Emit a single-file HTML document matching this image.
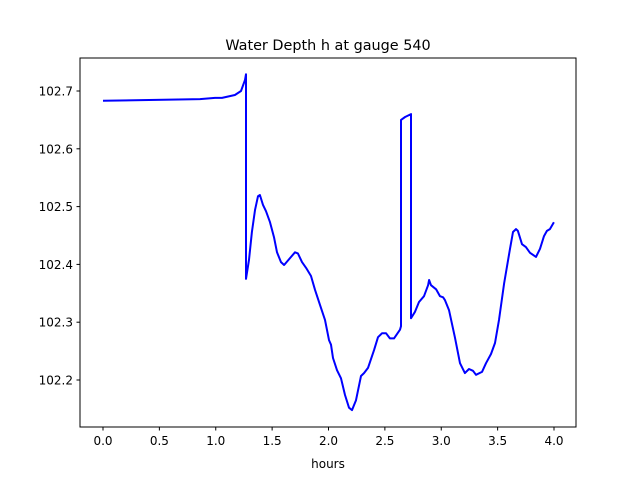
<!DOCTYPE html>
<html><head><meta charset="utf-8"><style>
body{margin:0;background:#fff;font-family:"Liberation Sans","DejaVu Sans",sans-serif}
text{font-family:"DejaVu Sans","Liberation Sans",sans-serif;fill:#000}
</style></head><body>
<svg id="chart" width="640" height="480" xmlns="http://www.w3.org/2000/svg">
<rect width="640" height="480" fill="#fff"/>
<text x="328" y="50" font-size="14.4" text-anchor="middle">Water Depth h at gauge 540</text>
<text x="328" y="468" font-size="12" text-anchor="middle">hours</text>
<g id="ticks"></g>
<path id="line" fill="none" stroke="#0000ff" stroke-width="2" stroke-linejoin="round"/>
<rect x="80" y="58" width="496" height="369" fill="none" stroke="#000" stroke-width="1"/>
</svg>
<script>
const hours=[0,0.86,0.993,1.055,1.17,1.224,1.259,1.268,1.268,1.295,1.321,1.348,1.375,1.392,1.419,1.446,1.481,1.517,1.543,1.579,1.606,1.659,1.703,1.729,1.765,1.801,1.845,1.880,1.925,1.969,2.004,2.022,2.040,2.075,2.111,2.146,2.182,2.208,2.244,2.288,2.315,2.350,2.404,2.439,2.475,2.510,2.545,2.581,2.634,2.643,2.643,2.679,2.732,2.732,2.767,2.803,2.847,2.883,2.892,2.909,2.954,2.989,3.016,3.033,3.069,3.122,3.166,3.210,3.246,3.282,3.308,3.361,3.397,3.441,3.477,3.512,3.557,3.610,3.636,3.663,3.680,3.716,3.751,3.787,3.840,3.876,3.911,3.937,3.964,3.999];
const depth=[102.683,102.686,102.688,102.688,102.693,102.700,102.719,102.729,102.375,102.408,102.456,102.494,102.518,102.520,102.503,102.492,102.473,102.447,102.421,102.404,102.399,102.411,102.421,102.419,102.404,102.394,102.380,102.356,102.330,102.304,102.269,102.261,102.238,102.217,102.203,102.174,102.152,102.148,102.165,102.207,102.212,102.221,102.252,102.274,102.281,102.281,102.272,102.272,102.287,102.293,102.650,102.655,102.660,102.307,102.318,102.335,102.345,102.364,102.373,102.364,102.357,102.345,102.343,102.338,102.321,102.273,102.229,102.212,102.219,102.216,102.209,102.214,102.229,102.245,102.264,102.304,102.367,102.427,102.456,102.461,102.458,102.435,102.430,102.420,102.413,102.427,102.449,102.458,102.461,102.473];
const xTicks=[0,0.5,1.0,1.5,2.0,2.5,3.0,3.5,4.0];
const xTickLabels=["0.0","0.5","1.0","1.5","2.0","2.5","3.0","3.5","4.0"];
const yTicks=[102.2,102.3,102.4,102.5,102.6,102.7];
const yTickLabels=["102.2","102.3","102.4","102.5","102.6","102.7"];
const X=v=>103+v*112.75;
const Y=v=>380-(v-102.2)*578;
const NS="http://www.w3.org/2000/svg";
const g=document.getElementById('ticks');
function mk(t,a){const e=document.createElementNS(NS,t);for(const k in a)e.setAttribute(k,a[k]);return e;}
xTicks.forEach((v,i)=>{
 const l=mk('line',{x1:X(v),x2:X(v),y1:427,y2:430.5,stroke:'#000'});
 
 
 g.appendChild(l);
 const t=mk('text',{x:X(v),y:445,'font-size':12,'text-anchor':'middle'});
 t.textContent=xTickLabels[i];
 
 
 g.appendChild(t);
});
yTicks.forEach((v,i)=>{
 const l=mk('line',{x1:76.5,x2:80,y1:Y(v),y2:Y(v),stroke:'#000'});
 
 
 g.appendChild(l);
 const t=mk('text',{x:73,y:Y(v)+4.5,'font-size':12,'text-anchor':'end'});
 t.textContent=yTickLabels[i];
 
 
 g.appendChild(t);
});
document.getElementById('line').setAttribute('d',hours.map((h,i)=>(i?'L':'M')+X(h).toFixed(1)+','+Y(depth[i]).toFixed(1)).join(''));
</script>
</body></html>
